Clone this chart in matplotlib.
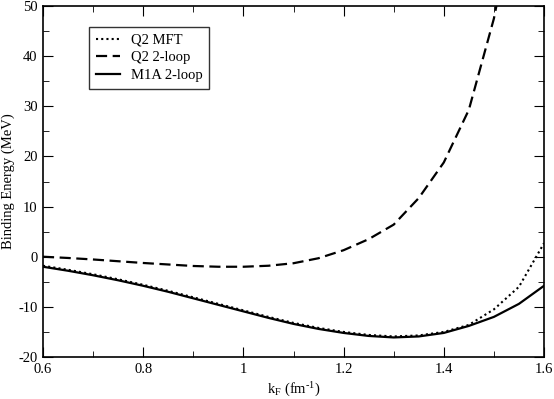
import matplotlib
matplotlib.use("Agg")
import matplotlib.pyplot as plt
import numpy as np
from matplotlib.ticker import MultipleLocator

plt.rcParams['font.family'] = ['Liberation Serif', 'DejaVu Serif']
plt.rcParams['mathtext.fontset'] = 'custom'
plt.rcParams['mathtext.rm'] = 'Liberation Serif'
plt.rcParams['mathtext.it'] = 'Liberation Serif:italic'
plt.rcParams['axes.unicode_minus'] = False

kf = [0.6, 0.65, 0.7, 0.75, 0.8, 0.85, 0.9, 0.95, 1.0, 1.05, 1.1, 1.15, 1.2, 1.25, 1.3, 1.35, 1.4, 1.45, 1.5, 1.55, 1.6]
q2_mft = [-1.8, -2.6, -3.5, -4.5, -5.6, -6.8, -8.1, -9.4, -10.7, -12.0, -13.2, -14.2, -15.0, -15.6, -15.9, -15.7, -15.0, -13.6, -10.5, -6.0, 2.7]
m1a_2loop = [-2.0, -2.8, -3.7, -4.7, -5.8, -7.0, -8.3, -9.6, -10.9, -12.2, -13.4, -14.4, -15.2, -15.8, -16.1, -15.9, -15.2, -13.8, -12.0, -9.4, -5.8]

kf2 = [0.6, 0.65, 0.7, 0.75, 0.8, 0.85, 0.9, 0.95, 1.0, 1.05, 1.1, 1.15, 1.2, 1.25, 1.3, 1.35, 1.4, 1.45, 1.5, 1.505]
q2_2loop = [0.0, -0.25, -0.55, -0.9, -1.25, -1.55, -1.85, -2.0, -2.0, -1.8, -1.3, -0.3, 1.3, 3.5, 6.4, 11.7, 18.8, 29.3, 47.5, 50.0]

fig = plt.figure(figsize=(5.54, 3.99), dpi=100)
ax = fig.add_axes([43/554, 1-357/399, (544-43)/554, (357-6)/399])

ax.plot(kf, q2_mft, color='black', linestyle=(0, (1, 1.5)), linewidth=1.5, label='Q2 MFT')
ax.plot(kf2, q2_2loop, color='black', linestyle=(0, (5, 2.5)), linewidth=1.6, label='Q2 2-loop')
ax.plot(kf, m1a_2loop, color='black', linestyle='-', linewidth=1.6, label='M1A 2-loop')

ax.set_xlim(0.6, 1.6)
ax.set_ylim(-20, 50)
ax.xaxis.set_minor_locator(MultipleLocator(0.1))
ax.yaxis.set_major_locator(MultipleLocator(10))
ax.yaxis.set_minor_locator(MultipleLocator(5))
ax.set_xticks([0.6, 0.8, 1.0, 1.2, 1.4, 1.6])
ax.set_xticklabels(['0.6', '0.8', '1', '1.2', '1.4', '1.6'])
ax.tick_params(which='both', direction='in', top=True, right=True, labelsize=10.5)
ax.tick_params(axis='x', pad=4)
ax.tick_params(axis='y', pad=4)
ax.tick_params(which='major', length=7)
ax.tick_params(which='minor', length=4)
for s in ax.spines.values():
    s.set_linewidth(1.2)

ax.set_xlabel(r'k$_\mathrm{F}$ (fm$^{\text{-}1}$)', fontsize=10.5, labelpad=4)
ax.set_ylabel('Binding Energy (MeV)', fontsize=10.5, labelpad=2)

leg = ax.legend(loc='upper left', bbox_to_anchor=((89-43)/501, (357-27)/351), fontsize=10.5, frameon=True,
                fancybox=False, edgecolor='black', handlelength=1.7, borderpad=0.45,
                labelspacing=0.3, handletextpad=0.7, borderaxespad=0)
leg.get_frame().set_linewidth(1.0)

fig.savefig('out.png', dpi=100)
